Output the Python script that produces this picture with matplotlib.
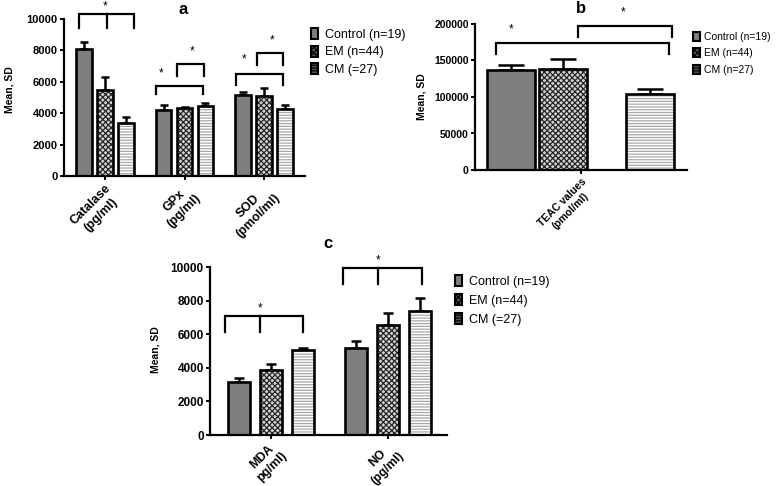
import matplotlib
matplotlib.use('Agg')
import matplotlib.pyplot as plt
from matplotlib.patches import Patch
import numpy as np

plt.rcParams['font.family'] = ['Liberation Sans', 'DejaVu Sans']
plt.rcParams['hatch.linewidth'] = 0.9

# ---------------- data ----------------
groups_a = ['Catalase\n(pg/ml)', 'GPx\n(pg/ml)', 'SOD\n(pmol/ml)']
ctrl_a = [8100, 4200, 5160]
ctrl_a_sd = [450, 320, 190]
em_a = [5480, 4310, 5110]
em_a_sd = [850, 100, 490]
cm_a = [3400, 4460, 4250]
cm_a_sd = [380, 210, 290]
yticks_a = [0, 2000, 4000, 6000, 8000, 10000]
legend_a = ['Control (n=19)', 'EM (n=44)', 'CM (=27)']

groups_b = ['TEAC values\n(pmol/ml)']
ctrl_b = [137000]
ctrl_b_sd = [6800]
em_b = [138300]
em_b_sd = [13700]
cm_b = [104100]
cm_b_sd = [6900]
yticks_b = [0, 50000, 100000, 150000, 200000]
legend_b = ['Control (n=19)', 'EM (n=44)', 'CM (n=27)']

groups_c = ['MDA\npg/ml)', 'NO\n(pg/ml)']
ctrl_c = [3170, 5160]
ctrl_c_sd = [240, 450]
em_c = [3870, 6550]
em_c_sd = [340, 690]
cm_c = [5060, 7380]
cm_c_sd = [100, 790]
yticks_c = [0, 2000, 4000, 6000, 8000, 10000]
legend_c = ['Control (n=19)', 'EM (n=44)', 'CM (=27)']

# significance brackets: (x_left, x_mid or None, x_right, y_top, y_drop, star_x, star_y)
brackets_a = [(-0.33, 0.03, 0.365, 10318, 9427, 0.0, 10830),
              (0.64, None, 1.23, 5732, 5223, 0.70, 6560),
              (0.906, None, 1.245, 7134, 6369, 1.094, 7950),
              (1.648, None, 2.239, 6497, 5796, 1.748, 7430),
              (1.912, None, 2.239, 7834, 7070, 2.10, 8650)]
brackets_b = [(-1.7, None, 1.76, 173560, 158900, -1.4, 193150),
              (-0.06, None, 1.82, 197260, 182200, 0.84, 216440)]
brackets_c = [(-0.393, -0.094, 0.274, 7101, 6149, -0.094, 7560),
              (0.615, 0.915, 1.29, 9940, 8988, 0.915, 10416)]

# ---------------- styles ----------------
W, H = 778, 486
fig = plt.figure(figsize=(W / 100, H / 100), dpi=100)

styles = [dict(facecolor='#7e7e7e', hatch='', hc='#7e7e7e'),
          dict(facecolor='#d4d4d4', hatch='xxxxxx', hc='#262626'),
          dict(facecolor='white', hatch='------', hc='#a8a8a8')]


def ax_px(l, r, b, t):
    return fig.add_axes([l / W, 1 - b / H, (r - l) / W, (b - t) / H])


def draw_panel(ax, groups, series, sds, offsets, width, xlim, ylim, yticks,
               brackets, capsize, fs_tick, fs_xl, xpad=1.5):
    x = np.arange(len(groups))
    for i, (vals, sd) in enumerate(zip(series, sds)):
        st = styles[i]
        pos = x + offsets[i]
        ax.bar(pos, vals, width, facecolor=st['facecolor'], hatch=st['hatch'],
               edgecolor=st['hc'], linewidth=0, zorder=2)
        ax.bar(pos, vals, width, fill=False, edgecolor='black', linewidth=1.9, zorder=3)
        ax.errorbar(pos, vals, yerr=[np.zeros(len(vals)), sd], fmt='none',
                    ecolor='black', elinewidth=1.8, capsize=capsize, capthick=1.8, zorder=1)
    ax.set_xlim(*xlim)
    ax.set_ylim(*ylim)
    ax.set_yticks(yticks)
    ax.set_yticklabels([str(v) for v in yticks], fontsize=fs_tick, fontweight='bold')
    ax.set_xticks(x)
    ax.set_xticklabels(groups, rotation=45, ha='right', va='top', rotation_mode='anchor',
                       multialignment='center', fontsize=fs_xl, fontweight='bold')
    for s in ['top', 'right']:
        ax.spines[s].set_visible(False)
    for s in ['left', 'bottom']:
        ax.spines[s].set_linewidth(1.6)
    ax.tick_params(axis='both', width=1.4, length=3, pad=1.5)
    ax.tick_params(axis='x', pad=xpad)
    for (xl, xm, xr, yt, yd, sx, sy) in brackets:
        ax.plot([xl, xl, xr, xr], [yd, yt, yt, yd], color='black', lw=1.6,
                clip_on=False, solid_joinstyle='miter')
        if xm is not None:
            ax.plot([xm, xm], [yt, yd], color='black', lw=1.6, clip_on=False)
        ax.text(sx, sy, '*', ha='center', va='center', fontsize=8.5, clip_on=False)


def legend(labels, x, y, fs=9, spacing=0.38, hl=0.55, hh=1.0, pad=0.6):
    handles = [Patch(facecolor=st['facecolor'] if i == 0 else '#555555', hatch=st['hatch'],
                     edgecolor='black', linewidth=1.5) for i, st in enumerate(styles)]
    fig.legend(handles, labels, loc='upper left', bbox_to_anchor=(x / W, 1 - y / H),
               frameon=False, fontsize=fs, handlelength=hl, handleheight=hh,
               handletextpad=pad, labelspacing=spacing, borderpad=0, borderaxespad=0)


# panel a
ax_a = ax_px(64, 305, 176, 19)
draw_panel(ax_a, groups_a, [ctrl_a, em_a, cm_a], [ctrl_a_sd, em_a_sd, cm_a_sd],
           [-0.264, 0, 0.264], 0.2, (-0.516, 2.516), (0, 10000), yticks_a,
           brackets_a, 3.0, 8, 9)
fig.text(183 / W, 1 - 14 / H, 'a', ha='center', va='baseline', fontsize=12, fontweight='bold')
fig.text(10 / W, 1 - 90 / H, 'Mean, SD', rotation=90, ha='center', va='center',
         fontsize=7.5, fontweight='bold')
legend(legend_a, 311, 28)

# panel b
ax_b = ax_px(475, 687, 170, 24)
draw_panel(ax_b, groups_b, [ctrl_b, em_b, cm_b], [ctrl_b_sd, em_b_sd, cm_b_sd],
           [-1.4, -0.37, 1.38], 0.96, (-2.12, 2.12), (0, 200000), yticks_b,
           brackets_b, 9.5, 7.5, 7.5)
fig.text(581 / W, 1 - 13 / H, 'b', ha='center', va='baseline', fontsize=12, fontweight='bold')
fig.text(422 / W, 1 - 97 / H, 'Mean, SD', rotation=90, ha='center', va='center',
         fontsize=7.5, fontweight='bold')
legend(legend_b, 693, 32, fs=7.5, spacing=0.6, hl=0.65, hh=0.95, pad=0.45)

# panel c
ax_c = ax_px(210, 447, 435, 267)
draw_panel(ax_c, groups_c, [ctrl_c, em_c, cm_c], [ctrl_c_sd, em_c_sd, cm_c_sd],
           [-0.2735, 0, 0.2735], 0.188, (-0.521, 1.504), (0, 10000), yticks_c,
           brackets_c, 3.5, 8.5, 8.8, xpad=0.5)
fig.text(328 / W, 1 - 248 / H, 'c', ha='center', va='baseline', fontsize=12, fontweight='bold')
fig.text(155 / W, 1 - 350 / H, 'Mean, SD', rotation=90, ha='center', va='center',
         fontsize=7.5, fontweight='bold')
legend(legend_c, 455, 275, spacing=0.5)

fig.savefig('out.png', dpi=100)
